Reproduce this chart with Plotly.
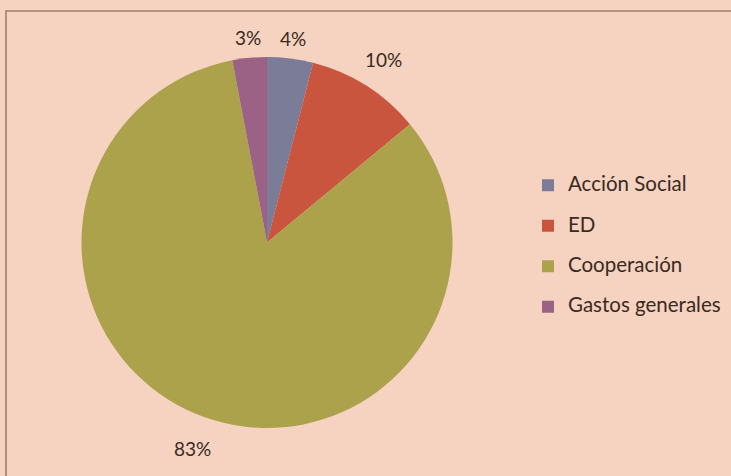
import math
import plotly.graph_objects as go

# ---- data ----
categories = ["Acción Social", "ED", "Cooperación", "Gastos generales"]
values = [4, 10, 83, 3]
pct_labels = ["4%", "10%", "83%", "3%"]

# ---- style / layout ----
colors = ["#7B7C98", "#C9553F", "#ACA24B", "#9B6285"]
label_dist = [1.11, 1.17, 1.18, 1.11]   # radial distance of % labels (x radius)
W, H = 731, 476
CX, CY, R = 267.0, 242.5, 185.5
TEXT = "#3A2A22"
FONT = "Lato"

fig = go.Figure()
fig.add_trace(go.Pie(
    labels=[f'<span style="font-size:20.5px">{c}</span><br> ' for c in categories],
    values=values,
    sort=False,
    direction="clockwise",
    rotation=0,
    textinfo="none",
    hoverinfo="skip",
    marker=dict(colors=colors, line=dict(width=0)),
    domain=dict(x=[(CX - R) / W, (CX + R) / W],
                y=[1 - (CY + R) / H, 1 - (CY - R) / H]),
))

# percentage labels placed at the mid-angle of each slice
total = sum(values)
cum = 0.0
annotations = []
for v, t, d in zip(values, pct_labels, label_dist):
    mid = (cum + v / 2) / total * 2 * math.pi
    cum += v
    px = CX + d * R * math.sin(mid)
    py = CY - d * R * math.cos(mid)
    annotations.append(dict(
        x=px / W, y=1 - py / H, xref="paper", yref="paper",
        text=t, showarrow=False, xanchor="center", yanchor="middle",
        font=dict(family=FONT, size=19, color=TEXT),
    ))

fig.update_layout(
    width=W, height=H,
    margin=dict(l=0, r=0, t=0, b=0),
    paper_bgcolor="#F5D3C0",
    plot_bgcolor="#F5D3C0",
    showlegend=True,
    legend=dict(
        x=528 / W, y=1 - 169.5 / H, xanchor="left", yanchor="top",
        font=dict(family=FONT, size=14.42, color=TEXT),
        valign="top",
        bgcolor="rgba(0,0,0,0)",
        borderwidth=0,
    ),
    annotations=annotations,
    shapes=[dict(
        type="rect", xref="paper", yref="paper",
        x0=6 / W, x1=1.02, y0=-0.02, y1=1 - 11 / H,
        line=dict(color="#A07E70", width=1.6),
        fillcolor="rgba(0,0,0,0)", layer="above",
    )],
)

fig.write_html(
    "out.html",
    config={"displayModeBar": False},
    post_script="document.body.style.margin='0';document.body.style.overflow='hidden';",
)
